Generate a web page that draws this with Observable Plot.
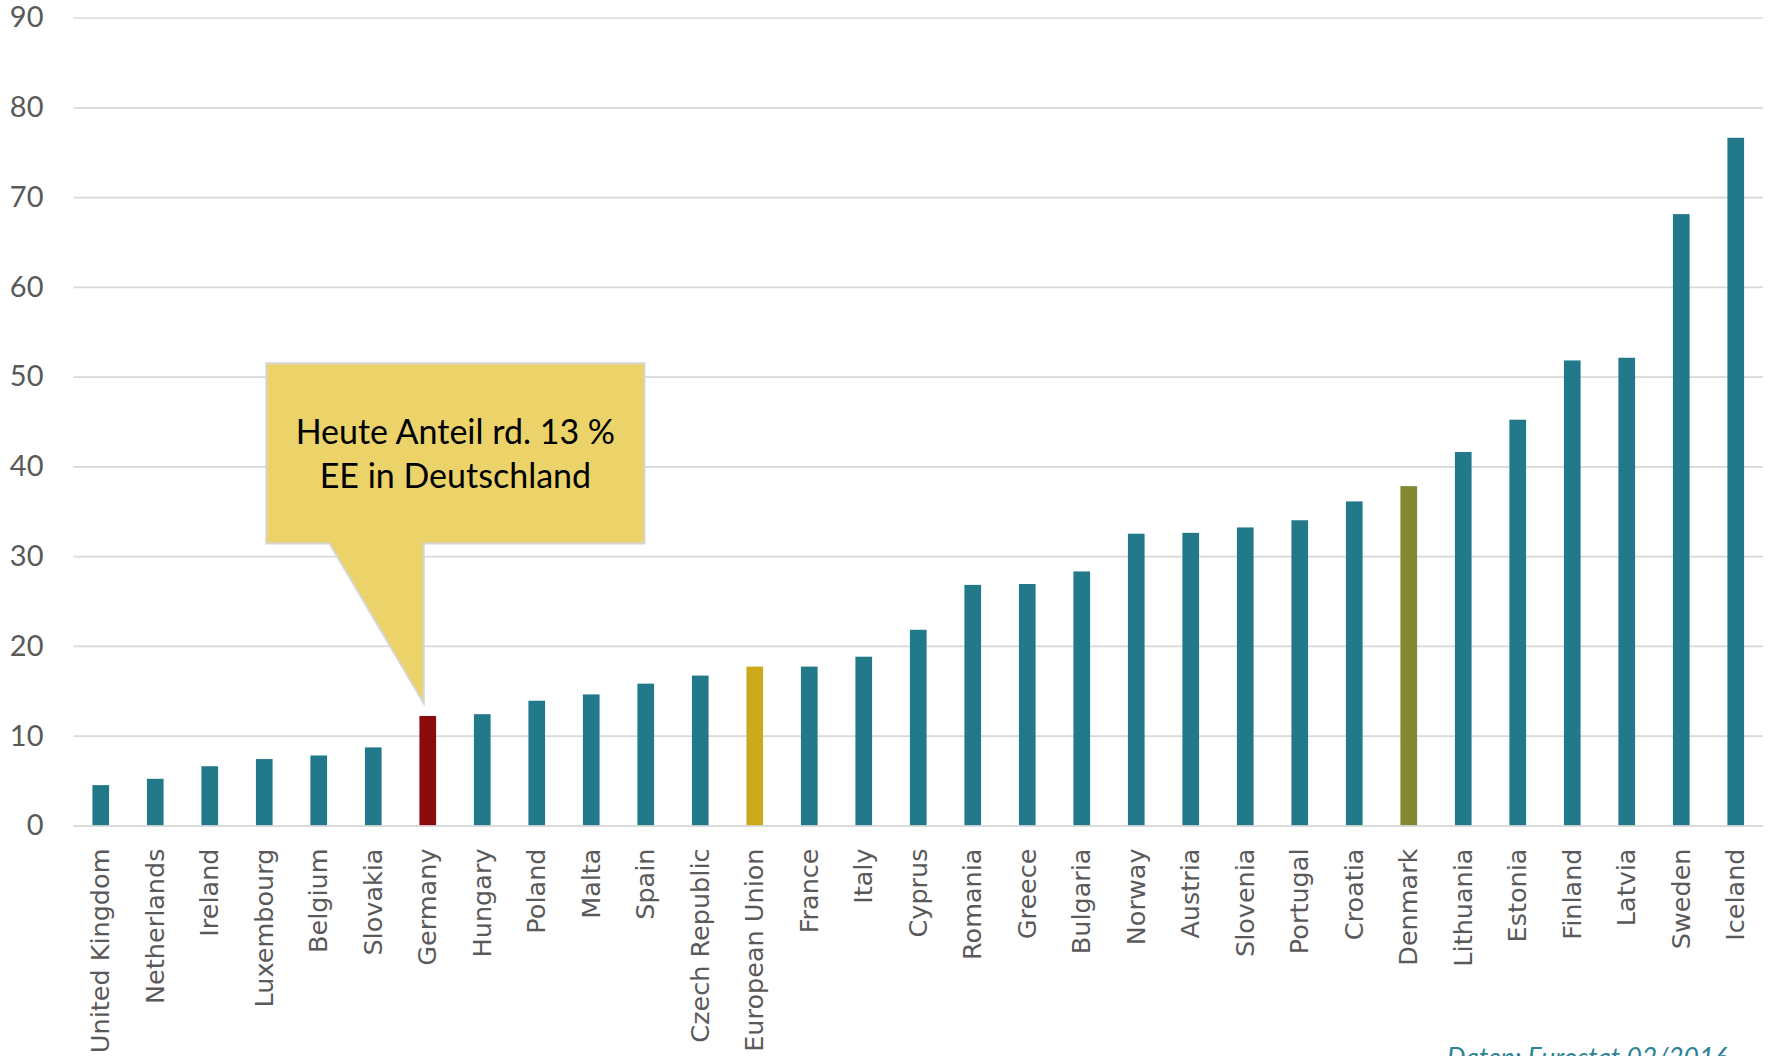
<!DOCTYPE html>
<html lang="de">
<head>
<meta charset="utf-8">
<title>Anteil erneuerbarer Energien</title>
<script src="https://cdn.jsdelivr.net/npm/d3@7"></script>
<script src="https://cdn.jsdelivr.net/npm/@observablehq/plot@0.6"></script>
<style>
  html, body { margin: 0; padding: 0; background: #ffffff; overflow: hidden; }
  #chart svg { display: block; }
</style>
</head>
<body>
<div id="chart"></div>
<script>
// Countries, sorted by renewable share (percent)
const countries = [
  "United Kingdom", "Netherlands", "Ireland", "Luxembourg", "Belgium", "Slovakia",
  "Germany", "Hungary", "Poland", "Malta", "Spain", "Czech Republic", "European Union",
  "France", "Italy", "Cyprus", "Romania", "Greece", "Bulgaria", "Norway", "Austria",
  "Slovenia", "Portugal", "Croatia", "Denmark", "Lithuania", "Estonia", "Finland",
  "Latvia", "Sweden", "Iceland"
];
const shares = [
  4.5, 5.2, 6.6, 7.4, 7.8, 8.7,
  12.2, 12.4, 13.9, 14.6, 15.8, 16.7, 17.7,
  17.7, 18.8, 21.8, 26.8, 26.9, 28.3, 32.5, 32.6,
  33.2, 34.0, 36.1, 37.8, 41.6, 45.2, 51.8,
  52.1, 68.1, 76.6
];
const yTicks = [0, 10, 20, 30, 40, 50, 60, 70, 80, 90];

// Callout text and the country it points at
const calloutLines = ["Heute Anteil rd. 13 %", "EE in Deutschland"];
const calloutTarget = "Germany";
const calloutTip = 13.6;          // value where the pointer ends
const calloutBox = [31.4, 51.5];  // vertical extent of the box, in axis units
const caption = "Daten: Eurostat 02/2016";

// Colours
const baseColor = "#22798A";
const highlightColors = new Map([
  ["Germany", "#8B0A0C"],
  ["European Union", "#CCA81B"],
  ["Denmark", "#818A33"]
]);
const gridColor = "#D9D9D9";
const labelColor = "#595959";

const data = countries.map((country, i) => ({country, share: shares[i]}));

// Speech-bubble annotation, positioned through the chart's scales
function callout(index, scales) {
  const x = scales.x, y = scales.y;
  const bx = x(calloutTarget);
  const step = x.step();
  const left = bx - 2.81 * step;
  const right = bx + 4.13 * step;
  const baseLeft = bx - 1.65 * step;
  const tipX = bx + 0.08 * step;
  const top = y(calloutBox[1]);
  const bottom = y(calloutBox[0]);
  const tipY = y(calloutTip);
  const g = d3.create("svg:g");
  const pts = [
    [left, top], [right, top], [right, bottom], [tipX, bottom],
    [tipX, tipY], [baseLeft, bottom], [left, bottom]
  ];
  g.append("path")
    .attr("d", "M" + pts.map(p => p.join(",")).join("L") + "Z")
    .attr("fill", "#EBD36A")
    .attr("stroke", "#D6D6D6")
    .attr("stroke-width", 2)
    .attr("stroke-linejoin", "miter");
  const cx = (left + right) / 2;
  const cy = (top + bottom) / 2;
  const lh = 44.3;
  const t = g.append("text")
    .attr("text-anchor", "middle")
    .attr("font-family", "Lato, 'Open Sans', sans-serif")
    .attr("font-size", 34)
    .attr("fill", "#000000");
  calloutLines.forEach((line, i) => {
    t.append("tspan")
      .attr("x", cx)
      .attr("y", cy + (i - (calloutLines.length - 1) / 2) * lh + 12.3)
      .text(line);
  });
  return g.node();
}

const chart = Plot.plot({
  width: 1769,
  height: 1056,
  marginTop: 17.5,
  marginBottom: 230.5,
  marginLeft: 73.5,
  marginRight: 6,
  style: {background: "#ffffff"},
  x: {domain: countries, paddingInner: 0.694, paddingOuter: 0.347, align: 0.5, round: false, label: null},
  y: {domain: [0, 90], label: null},
  marks: [
    Plot.gridY(yTicks, {stroke: gridColor, strokeOpacity: 1, strokeWidth: 1.7}),
    Plot.axisY(yTicks, {
      tickSize: 0, tickPadding: 30.5, fontSize: 29,
      fontFamily: "Lato, sans-serif", fill: labelColor, label: null
    }),
    Plot.barY(data, {
      x: "country", y: "share",
      fill: d => highlightColors.get(d.country) ?? baseColor
    }),
    Plot.ruleY([0], {stroke: gridColor, strokeWidth: 1.7}),
    Plot.axisX({
      tickRotate: -90, tickSize: 0, tickPadding: 22.5, fontSize: 25.5,
      fontFamily: "'DejaVu Sans', sans-serif", fill: labelColor, label: null
    }),
    callout,
    Plot.text([caption], {
      text: d => d, frameAnchor: "bottom-right", lineAnchor: "top",
      dx: -35, dy: 222, fontSize: 26.5, fontStyle: "italic",
      fontFamily: "Lato, sans-serif", fill: "#2C8396"
    })
  ]
});

document.getElementById("chart").append(chart);
</script>
</body>
</html>
